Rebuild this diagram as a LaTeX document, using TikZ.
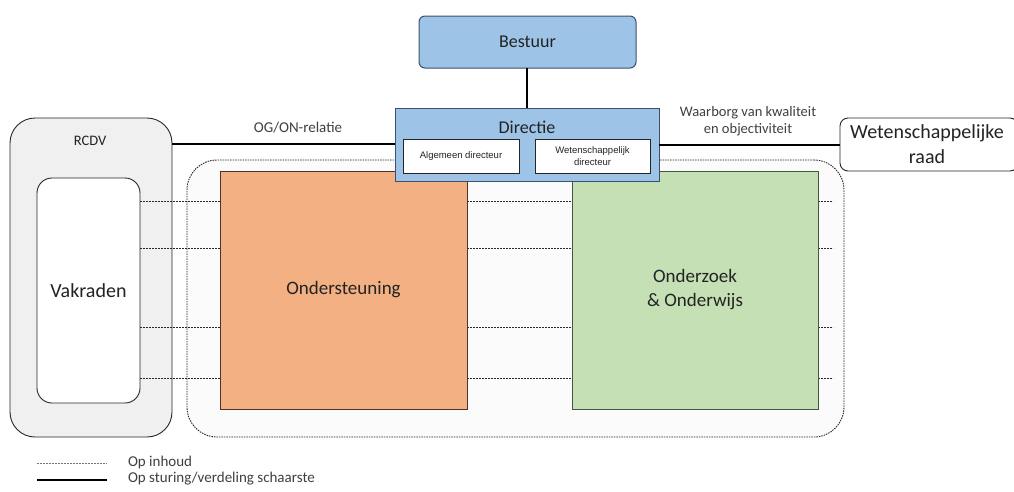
\documentclass[tikz,border=0pt]{standalone}
\usepackage{fontspec}
\setmainfont{Carlito}
\newfontfamily\smallsans{Liberation Sans}
\definecolor{govfill}{RGB}{157,195,230}
\definecolor{govline}{RGB}{60,80,110}
\definecolor{supfill}{RGB}{242,176,131}
\definecolor{supline}{RGB}{80,50,40}
\definecolor{resfill}{RGB}{197,224,180}
\definecolor{resline}{RGB}{70,85,70}
\definecolor{txt}{RGB}{35,35,35}
\begin{document}
\begin{tikzpicture}[x=1pt,y=-1pt,
  every node/.style={inner sep=0pt, outer sep=0pt, text=txt},
  bluebox/.style={draw=govline, line width=1pt, fill=govfill},
  whitebox/.style={draw=black!85, line width=0.9pt, fill=white},
  rbox/.style={draw=black!85, line width=0.9pt, rounded corners=#1},
  content/.style={draw=black!85, line width=0.9pt, dash pattern=on 2pt off 1pt},
  ctrl/.style={draw=black, line width=1.1pt},
  lbl/.style={font=\fontsize{14}{16}\selectfont, text=black!75, align=center}
]
\useasboundingbox (0,0) rectangle (1014,491);
\fill[white] (0,0) rectangle (1014,491);

% outer groups
\node[rbox=25pt, fill=black!6, minimum width=162pt, minimum height=319pt] (rcdv) at (91,277.5) {};
\node[font=\fontsize{14.5}{16}\selectfont] (rcdvlbl) at (90,141) {RCDV};
\node[rbox=15pt, fill=white, minimum width=103pt, minimum height=225pt,
      font=\fontsize{20}{22}\selectfont] (vakraden) at (88.5,290.5) {Vakraden};

\node[rounded corners=30pt, draw=black!85, line width=0.9pt, dash pattern=on 1.5pt off 1pt,
      fill=black!1.5, minimum width=657pt, minimum height=277pt] (scope) at (515.5,298.5) {};

% content relations (dashed), drawn under the departments
\coordinate (d1) at (833,201);
\coordinate (d2) at (833,248);
\coordinate (d3) at (833,327);
\coordinate (d4) at (833,378);
\foreach \c in {d1,d2,d3,d4}
  \draw[content] (vakraden.east |- \c) -- (\c);

% departments
\node[draw=supline, line width=1pt, fill=supfill, minimum width=247pt, minimum height=238pt,
      font=\fontsize{19}{21}\selectfont] (onderst) at (343.5,290) {Ondersteuning};
\node[draw=resline, line width=1pt, fill=resfill,
      minimum width=246pt, minimum height=238pt, align=center,
      font=\fontsize{19}{24}\selectfont] (onderz) at (695,290) {Onderzoek\\\& Onderwijs};

% governance
\node[bluebox, rounded corners=6pt, minimum width=217pt, minimum height=52pt,
      font=\fontsize{18}{20}\selectfont] (bestuur) at (527.5,42) {Bestuur};
\node[bluebox, minimum width=264pt, minimum height=73pt] (directie) at (527,144.5) {};
\node[font=\fontsize{18}{20}\selectfont] (dirlbl) at (527,127) {Directie};
\node[whitebox, minimum width=116pt, minimum height=34pt,
      font=\smallsans\fontsize{9.5}{11}\selectfont] (alg) at (461,156) {Algemeen directeur};
\node[whitebox, minimum width=115pt, minimum height=34pt, align=center,
      font=\smallsans\fontsize{9.5}{11.5}\selectfont] (wet) at (592.5,156) {Wetenschappelijk\\directeur};

\node[rbox=8pt, fill=white, minimum width=178pt, minimum height=53pt] (raad) at (929,144.5) {};
\node[font=\fontsize{20}{25}\selectfont, align=center] (raadlbl) at (927,144.5) {Wetenschappelijke\\raad};

% steering relations (solid)
\draw[ctrl] (bestuur.south -| directie.north) -- (directie.north);
\draw[ctrl] (rcdv.east |- 0,144) -- (directie.west |- 0,144);
\draw[ctrl] (directie.east |- 0,145) -- (raad.west |- 0,145);
\node[lbl, font=\fontsize{15}{17}\selectfont] (oglbl) at (298,128) {OG/ON-relatie};
\node[lbl, font=\fontsize{14.5}{16.5}\selectfont] (wlbl) at (748,121) {Waarborg van kwaliteit\\en objectiviteit};

% legend
\coordinate (la1) at (37,463); \coordinate (la2) at (107,463);
\coordinate (lb1) at (37,480); \coordinate (lb2) at (107,480);
\draw[content, draw=black!55] (la1) -- (la2);
\draw[ctrl] (lb1) -- (lb2);
\node[lbl, anchor=west, font=\fontsize{15}{17}\selectfont] (leg1) at (128,462) {Op inhoud};
\node[lbl, anchor=west, font=\fontsize{15}{17}\selectfont] (leg2) at (128,479) {Op sturing/verdeling schaarste};
\end{tikzpicture}
\end{document}
